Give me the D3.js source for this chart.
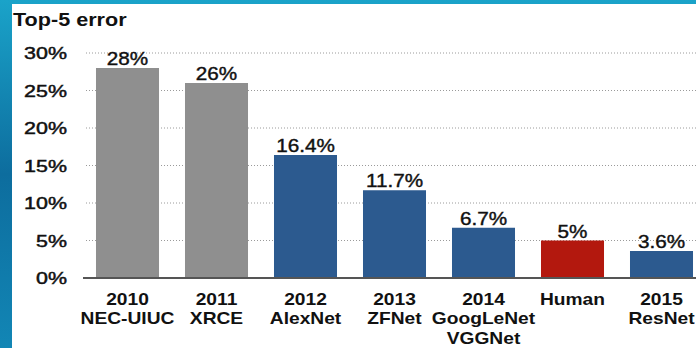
<!DOCTYPE html>
<html>
<head>
<meta charset="utf-8">
<script src="https://cdn.jsdelivr.net/npm/d3@7"></script>
<style>
  body { margin: 0; padding: 0; background: #fff; }
  svg { display: block; font-family: "Liberation Sans", Arial, Helvetica, sans-serif; }
</style>
</head>
<body>
<div id="chart"></div>
<script>
// chart data
var categories = ["2010|NEC-UIUC", "2011|XRCE", "2012|AlexNet", "2013|ZFNet", "2014|GoogLeNet|VGGNet", "Human", "2015|ResNet"];
var errors = [28, 26, 16.4, 11.7, 6.7, 5, 3.6];
var valueLabels = ["28%", "26%", "16.4%", "11.7%", "6.7%", "5%", "3.6%"];
var groups = ["old", "old", "deep", "deep", "deep", "human", "deep"];
var yTicks = [0, 5, 10, 15, 20, 25, 30];

var svgWidth = 696;
var svgHeight = 348;

var colors = { old: "#8f8f8f", deep: "#2c5a8f", human: "#b3180e" };

var svg = d3.select("#chart")
    .append("svg")
    .attr("width", svgWidth)
    .attr("height", svgHeight);

// backdrop: blue slide texture at the edges, white panel
var defs = svg.append("defs");
var grad = defs.append("linearGradient").attr("id", "bg").attr("x1", 0).attr("y1", 0).attr("x2", 0).attr("y2", 1);
grad.append("stop").attr("offset", "0%").attr("stop-color", "#1aa3c9");
grad.append("stop").attr("offset", "50%").attr("stop-color", "#0d6d9e");
grad.append("stop").attr("offset", "100%").attr("stop-color", "#1286b5");
svg.append("rect").attr("width", svgWidth).attr("height", svgHeight).attr("fill", "url(#bg)");
svg.append("rect").attr("x", 12).attr("y", 4).attr("width", svgWidth - 12).attr("height", svgHeight - 4).attr("fill", "#fff");

var chartGroup = svg.append("g");

var y = d3.scaleLinear()
    .domain([0, 30])
    .range([278, 53]);

var x = d3.scaleBand()
    .domain(categories)
    .range([83, 706])
    .paddingInner(0.292)
    .paddingOuter(0.146);

// stretched text helper (the source slide is widened horizontally)
function stretched(sel, sx) {
    sel.attr("transform", function() {
        var t = d3.select(this);
        return "translate(" + t.attr("data-x") + "," + t.attr("data-y") + ") scale(" + sx + ",1)";
    });
}

// dotted gridlines
chartGroup.append("g")
    .selectAll("line")
    .data(yTicks.filter(d => d > 0))
    .enter()
    .append("line")
    .attr("x1", 86)
    .attr("x2", svgWidth)
    .attr("y1", d => y(d))
    .attr("y2", d => y(d))
    .attr("stroke", "#9a9a9a")
    .attr("stroke-width", 1)
    .attr("stroke-dasharray", "1,2");

// y tick labels
chartGroup.append("g")
    .selectAll("text")
    .data(yTicks)
    .enter()
    .append("text")
    .attr("data-x", 67)
    .attr("data-y", d => y(d) + 6)
    .attr("text-anchor", "end")
    .attr("font-size", "16.5px")
    .attr("fill", "#111")
    .attr("stroke", "#111")
    .attr("stroke-width", 0.45)
    .text(d => d + "%")
    .call(stretched, 1.3);

// bars
chartGroup.append("g")
    .selectAll("rect")
    .data(errors)
    .enter()
    .append("rect")
    .attr("x", (d, i) => x(categories[i]))
    .attr("width", x.bandwidth())
    .attr("y", d => y(d))
    .attr("height", d => y(0) - y(d))
    .attr("fill", (d, i) => colors[groups[i]]);

// axis line
chartGroup.append("line")
    .attr("x1", 83)
    .attr("x2", svgWidth)
    .attr("y1", y(0))
    .attr("y2", y(0))
    .attr("stroke", "#555")
    .attr("stroke-width", 2);

// value labels
chartGroup.append("g")
    .selectAll("text")
    .data(errors)
    .enter()
    .append("text")
    .attr("data-x", (d, i) => x(categories[i]) + x.bandwidth() / 2)
    .attr("data-y", d => y(d) - 3)
    .attr("text-anchor", "middle")
    .attr("font-size", "18px")
    .attr("fill", "#111")
    .attr("stroke", "#111")
    .attr("stroke-width", 0.4)
    .text((d, i) => valueLabels[i])
    .call(stretched, 1.15);

// category labels
var catLabels = chartGroup.append("g")
    .selectAll("text")
    .data(categories)
    .enter()
    .append("text")
    .attr("data-x", d => x(d) + x.bandwidth() / 2)
    .attr("data-y", 305)
    .attr("text-anchor", "middle")
    .attr("font-size", "16px")
    .attr("font-weight", "bold")
    .attr("fill", "#111")
    .call(stretched, 1.2);

catLabels.each(function(d) {
    var t = d3.select(this);
    d.split("|").forEach(function(line, k) {
        t.append("tspan").attr("x", 0).attr("y", k * 19.5).text(line);
    });
});

// title
svg.append("text")
    .attr("data-x", 13)
    .attr("data-y", 26)
    .attr("font-size", "18px")
    .attr("font-weight", "bold")
    .attr("fill", "#111")
    .text("Top-5 error")
    .call(stretched, 1.2);
</script>
</body>
</html>
